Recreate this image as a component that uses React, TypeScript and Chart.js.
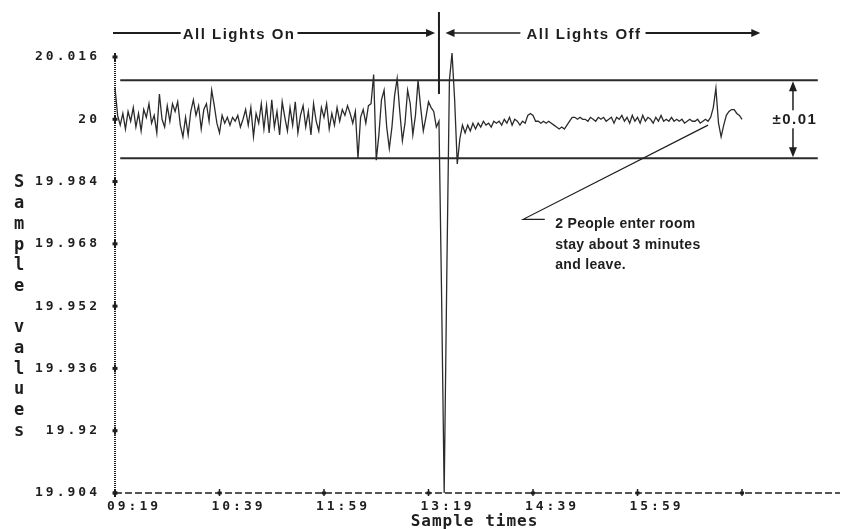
import React, { useEffect, useRef } from 'react';
import { Chart, registerables } from 'chart.js';

Chart.register(...registerables);

// ---- data -------------------------------------------------------------
const SAMPLE_STEP_MIN = 2; // one sample every 2 minutes, starting 09:19
const SAMPLE_VALUES = [
  20.008, 20.001, 19.9985, 20.0015, 19.9975, 20.002, 19.9995, 20.003, 19.998, 20.0015,
  19.997, 20.0025, 20.0005, 20.004, 19.999, 20.001, 19.9965, 20.0065, 20, 19.998,
  20.0035, 19.9995, 20.004, 20.002, 20.0045, 19.9985, 19.9955, 20.0005, 19.996, 20.002,
  20.005, 20.001, 20.0035, 19.9975, 20.0025, 20.004, 19.9995, 20.0075, 20.0035, 19.999,
  19.9965, 20.001, 19.999, 20.0005, 19.9985, 20.0005, 19.9995, 20.001, 19.998, 20,
  20.0025, 19.9985, 20.003, 19.9955, 20.0015, 19.999, 20.004, 19.9975, 20.0035, 19.9965,
  20.005, 19.998, 20.002, 19.996, 20.0045, 20.0005, 19.997, 20.003, 19.9985, 20.0045,
  19.9965, 20.001, 20.0035, 19.998, 20.002, 19.996, 20.004, 19.9995, 19.997, 20.003,
  20.0005, 20.004, 19.9975, 20.0015, 19.9985, 20.003, 19.9995, 20.0025, 20.001, 20.0035,
  20.0015, 19.999, 20.002, 19.99, 20.0005, 20.0025, 19.999, 20.0035, 20.004, 20.0115,
  19.9895, 19.996, 20.005, 20.0075, 19.998, 19.9925, 19.998, 20.006, 20.0105, 20.002,
  19.9945, 19.999, 20.0075, 20.004, 19.996, 20.001, 20.01, 20.003, 19.997, 20.0005,
  20.0045, 20.003, 20.002, 19.998, 19.9995, 19.955, 19.904, 19.96, 20.01, 20.017,
  20.005, 19.9885, 19.995, 19.9985, 19.9965, 19.9985, 19.997, 19.999, 19.9975, 19.999,
  19.998, 19.9995, 19.9985, 19.999, 19.998, 19.9995, 19.999, 19.9995, 19.9985, 20,
  19.999, 20.0005, 19.9985, 20, 19.9995, 19.9985, 19.9995, 19.999, 20.001, 20.0015,
  20.001, 19.9995, 19.9995, 19.999, 19.9995, 19.999, 19.9995, 19.999, 19.9985, 19.998,
  19.9975, 19.998, 19.9975, 19.9985, 19.9995, 20.0005, 20.0005, 20, 20.0005, 20,
  20, 19.9995, 20.0005, 20, 19.9995, 20.0005, 20, 20.0005, 19.9995, 20,
  20.0005, 19.999, 20.0005, 20, 20.001, 19.9995, 20.0005, 19.999, 20.001, 19.9995,
  20.0005, 19.999, 20.001, 19.9995, 20.0005, 20, 19.999, 20.0005, 19.9995, 20.001,
  19.9995, 20, 19.9995, 20.0005, 19.9995, 20, 19.9995, 20, 19.999, 19.9995,
  20, 19.9995, 19.9995, 20, 19.999, 19.9995, 20, 19.9995, 20.0005, 20.003,
  20.008, 19.999, 19.9955, 19.9985, 20.001, 20.002, 20.0025, 20.0025, 20.0015, 20.001,
  20,
];

const X_MAX_MIN = 555;
const X_TICK_MINUTES = [0, 80, 160, 240, 320, 400, 480];
const X_TICK_LABELS = ['09:19', '10:39', '11:59', '13:19', '14:39', '15:59', ''];

const Y_MIN = 19.904;
const Y_MAX = 20.016;
const Y_TICKS = [20.016, 20, 19.984, 19.968, 19.952, 19.936, 19.92, 19.904];
const Y_TICK_LABELS = ['20.016', '20', '19.984', '19.968', '19.952', '19.936', '19.92', '19.904'];

const UPPER_LIMIT = 20.01;
const LOWER_LIMIT = 19.99;
const LIMIT_SPAN_MIN = [4, 538];

const X_TITLE = 'Sample times';
const Y_TITLE = 'Sample values';
const LIGHTS_ON_LABEL = 'All Lights On';
const LIGHTS_OFF_LABEL = 'All Lights Off';
const TOLERANCE_LABEL = '±0.01';
const NOTE_LINES = ['2 People enter room', 'stay about 3 minutes', 'and leave.'];

// annotation anchors (minutes from 09:19 / sample values)
const LIGHTS_ON_SPAN = [0, 245];
const LIGHTS_ON_TEXT_AT = 95;
const EVENT_AT = 248;
const EVENT_TOP_VALUE = 20.0065;
const LIGHTS_OFF_SPAN = [253, 494];
const LIGHTS_OFF_TEXT_AT = 359;
const TOLERANCE_AT = 519;
const NOTE_POINT = { x: 454, y: 19.9985 };
const NOTE_ELBOW = { x: 312.5, y: 19.9743 };
const NOTE_TAIL_AT = 329;
const NOTE_TEXT_AT = 337;

const INK = '#1e1e1e';
const MONO = '"DejaVu Sans Mono", monospace';
const SANS = '"Liberation Sans", Arial, sans-serif';

function arrowHead(ctx: CanvasRenderingContext2D, x: number, y: number, dir: string, len = 9, half = 4) {
  ctx.beginPath();
  if (dir === 'r') { ctx.moveTo(x, y); ctx.lineTo(x - len, y - half); ctx.lineTo(x - len, y + half); }
  if (dir === 'l') { ctx.moveTo(x, y); ctx.lineTo(x + len, y - half); ctx.lineTo(x + len, y + half); }
  if (dir === 'u') { ctx.moveTo(x, y); ctx.lineTo(x - half, y + len); ctx.lineTo(x + half, y + len); }
  if (dir === 'd') { ctx.moveTo(x, y); ctx.lineTo(x - half, y - len); ctx.lineTo(x + half, y - len); }
  ctx.closePath();
  ctx.fill();
}

function line(ctx: CanvasRenderingContext2D, x1: number, y1: number, x2: number, y2: number) {
  ctx.beginPath();
  ctx.moveTo(x1, y1);
  ctx.lineTo(x2, y2);
  ctx.stroke();
}

const annotatePlugin = {
  id: 'annotate',
  beforeDraw(chart: any) {
    (chart.ctx as any).letterSpacing = '3px';
  },
  beforeDatasetsDraw(chart: any) {
    const ctx: CanvasRenderingContext2D = chart.ctx;
    const area = chart.chartArea;
    ctx.save();
    ctx.strokeStyle = INK;
    // dotted y axis
    ctx.lineWidth = 2;
    ctx.setLineDash([1, 1]);
    line(ctx, area.left, area.top - 4, area.left, area.bottom);
    // dashed x axis
    ctx.lineWidth = 1.5;
    ctx.setLineDash([7, 3]);
    line(ctx, area.left, area.bottom, area.right, area.bottom);
    ctx.restore();
  },
  afterDraw(chart: any) {
    const ctx: CanvasRenderingContext2D = chart.ctx;
    const xs = chart.scales.x;
    const ys = chart.scales.y;
    const area = chart.chartArea;
    const px = (t: number) => xs.getPixelForValue(t);
    const py = (v: number) => ys.getPixelForValue(v);
    ctx.save();
    (ctx as any).letterSpacing = '0px';
    ctx.strokeStyle = INK;
    ctx.fillStyle = INK;

    // tick marks on both axes
    X_TICK_MINUTES.forEach((t) => {
      const x = px(t);
      ctx.fillRect(x - 2, area.bottom - 1.5, 4, 3);
      ctx.fillRect(x - 0.75, area.bottom - 4, 1.5, 7);
    });
    Y_TICKS.forEach((v) => {
      const y = py(v);
      ctx.fillRect(area.left - 2.5, y - 1.5, 5, 3);
      ctx.fillRect(area.left - 1, y - 4, 2, 8);
    });

    // top arrows
    const topY = 33;
    ctx.lineWidth = 2;
    ctx.font = `bold 15px ${SANS}`;
    (ctx as any).letterSpacing = '1.5px';
    ctx.textBaseline = 'middle';
    ctx.textAlign = 'center';
    const onW = ctx.measureText(LIGHTS_ON_LABEL).width;
    const onC = px(LIGHTS_ON_TEXT_AT);
    ctx.fillText(LIGHTS_ON_LABEL, onC, topY + 2);
    line(ctx, px(LIGHTS_ON_SPAN[0]) - 2, topY, onC - onW / 2 - 2, topY);
    line(ctx, onC + onW / 2 + 2, topY, px(LIGHTS_ON_SPAN[1]) - 6, topY);
    arrowHead(ctx, px(LIGHTS_ON_SPAN[1]), topY, 'r');

    const offW = ctx.measureText(LIGHTS_OFF_LABEL).width;
    const offC = px(LIGHTS_OFF_TEXT_AT);
    ctx.fillText(LIGHTS_OFF_LABEL, offC, topY + 2);
    ctx.lineWidth = 1.5;
    line(ctx, px(LIGHTS_OFF_SPAN[0]) + 6, topY, offC - offW / 2 - 6, topY);
    arrowHead(ctx, px(LIGHTS_OFF_SPAN[0]), topY, 'l');
    ctx.lineWidth = 2;
    line(ctx, offC + offW / 2 + 4, topY, px(LIGHTS_OFF_SPAN[1]) - 6, topY);
    arrowHead(ctx, px(LIGHTS_OFF_SPAN[1]), topY, 'r');

    // event marker
    ctx.lineWidth = 2;
    line(ctx, px(EVENT_AT), 12, px(EVENT_AT), py(EVENT_TOP_VALUE));

    // tolerance arrow
    const tx = px(TOLERANCE_AT);
    const tTop = py(UPPER_LIMIT);
    const tBot = py(LOWER_LIMIT);
    const tMid = py((UPPER_LIMIT + LOWER_LIMIT) / 2);
    ctx.lineWidth = 1.5;
    line(ctx, tx, tTop + 6, tx, tBot - 6);
    arrowHead(ctx, tx, tTop + 1, 'u', 10, 4);
    arrowHead(ctx, tx, tBot - 1, 'd', 10, 4);
    ctx.font = `bold 15px ${SANS}`;
    const tolW = ctx.measureText(TOLERANCE_LABEL).width;
    ctx.fillStyle = '#ffffff';
    ctx.fillRect(tx - tolW / 2 - 1, tMid - 9, tolW + 2, 18);
    ctx.fillStyle = INK;
    ctx.fillText(TOLERANCE_LABEL, tx + 2, tMid + 1);

    // note pointer
    ctx.lineWidth = 1.2;
    ctx.beginPath();
    ctx.moveTo(px(NOTE_POINT.x), py(NOTE_POINT.y));
    ctx.lineTo(px(NOTE_ELBOW.x), py(NOTE_ELBOW.y));
    ctx.lineTo(px(NOTE_TAIL_AT), py(NOTE_ELBOW.y));
    ctx.stroke();
    ctx.font = `bold 14px ${SANS}`;
    (ctx as any).letterSpacing = '0.3px';
    ctx.textAlign = 'left';
    NOTE_LINES.forEach((s, i) => {
      ctx.fillText(s, px(NOTE_TEXT_AT), py(NOTE_ELBOW.y) + 5 + i * 20.5);
    });

    // axis titles
    ctx.font = `bold 16px ${MONO}`;
    (ctx as any).letterSpacing = '1px';
    ctx.textAlign = 'center';
    ctx.textBaseline = 'alphabetic';
    ctx.fillText(X_TITLE, (area.left + area.right) / 2 - 3, 526);
    ctx.font = `bold 17px ${MONO}`;
    (ctx as any).letterSpacing = '0px';
    ctx.textBaseline = 'middle';
    Y_TITLE.split('').forEach((ch, i) => {
      if (ch !== ' ') ctx.fillText(ch, 19, 183 + i * 20.7);
    });

    ctx.restore();
    (ctx as any).letterSpacing = '0px';
  },
};

export default function App() {
  const ref = useRef<HTMLCanvasElement | null>(null);

  useEffect(() => {
    const canvas = ref.current;
    if (!canvas) return;
    const tickFont = { family: MONO, size: 13, weight: 'bold' as const };
    const chart = new Chart(canvas, {
      type: 'line',
      data: {
        datasets: [
          {
            label: 'Sample values',
            data: SAMPLE_VALUES.map((v, i) => ({ x: i * SAMPLE_STEP_MIN, y: v })),
            borderColor: '#2b2b2b',
            borderWidth: 1.3,
            pointRadius: 0,
            tension: 0,
            clip: false as any,
          },
          {
            label: 'Upper limit',
            data: LIMIT_SPAN_MIN.map((t) => ({ x: t, y: UPPER_LIMIT })),
            borderColor: '#2b2b2b',
            borderWidth: 2,
            pointRadius: 0,
          },
          {
            label: 'Lower limit',
            data: LIMIT_SPAN_MIN.map((t) => ({ x: t, y: LOWER_LIMIT })),
            borderColor: '#2b2b2b',
            borderWidth: 2,
            pointRadius: 0,
          },
        ],
      },
      options: {
        responsive: false,
        animation: false,
        devicePixelRatio: 1,
        layout: { padding: { left: 0, right: 3, top: 57, bottom: 0 } },
        plugins: { legend: { display: false }, tooltip: { enabled: false } },
        scales: {
          x: {
            type: 'linear',
            min: 0,
            max: X_MAX_MIN,
            grid: { display: false, drawTicks: false },
            border: { display: false },
            afterBuildTicks: (s: any) => {
              s.ticks = X_TICK_MINUTES.map((v) => ({ value: v }));
            },
            afterFit: (s: any) => {
              s.height = 36;
            },
            ticks: {
              autoSkip: false,
              maxRotation: 0,
              padding: 6,
              labelOffset: 19,
              color: INK,
              font: tickFont,
              callback: (_v: any, i: number) => X_TICK_LABELS[i],
            },
          },
          y: {
            type: 'linear',
            min: Y_MIN,
            max: Y_MAX,
            grid: { display: false, drawTicks: false },
            border: { display: false },
            afterBuildTicks: (s: any) => {
              s.ticks = Y_TICKS.map((v) => ({ value: v }));
            },
            afterFit: (s: any) => {
              s.width = 115;
            },
            ticks: {
              padding: 15,
              color: INK,
              font: tickFont,
              callback: (_v: any, i: number) => Y_TICK_LABELS[i],
            },
          },
        },
      },
      plugins: [annotatePlugin],
    } as any);
    return () => chart.destroy();
  }, []);

  return (
    <canvas
      ref={ref}
      width={843}
      height={529}
      style={{ position: 'fixed', left: 0, top: 0, display: 'block', background: '#fff' }}
    />
  );
}
